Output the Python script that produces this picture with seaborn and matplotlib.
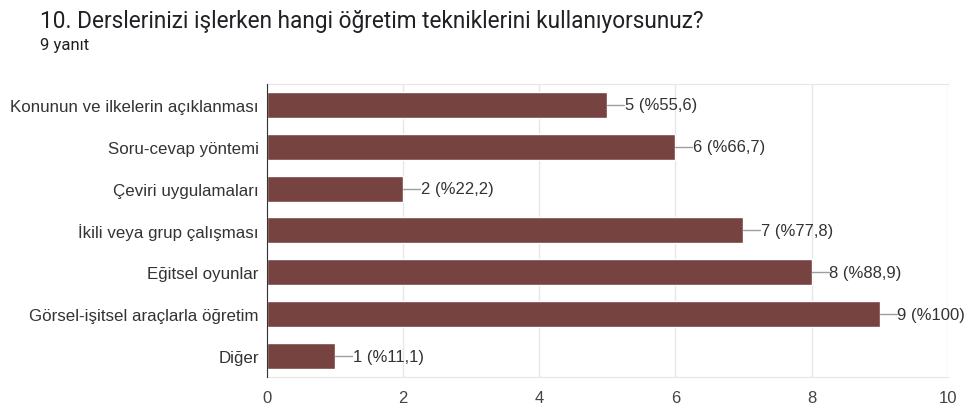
import numpy as np
import pandas as pd
import seaborn as sns
import matplotlib.pyplot as plt

categories = ['Konunun ve ilkelerin açıklanması', 'Soru-cevap yöntemi', 'Çeviri uygulamaları',
              'İkili veya grup çalışması', 'Eğitsel oyunlar', 'Görsel-işitsel araçlarla öğretim', 'Diğer']
counts = [5, 6, 2, 7, 8, 9, 1]
percent_labels = ['%55,6', '%66,7', '%22,2', '%77,8', '%88,9', '%100', '%11,1']
x_ticks = [0, 2, 4, 6, 8, 10]

df = pd.DataFrame({'category': categories, 'count': counts})

sns.set_style('white')
plt.rcParams['font.family'] = ['Liberation Sans', 'DejaVu Sans']

fig = plt.figure(figsize=(9.69, 4.10), dpi=100)
ax = fig.add_axes([0.2755, 0.078, 0.7025, 0.715])

sns.barplot(x='count', y='category', data=df, color='#774340', width=0.62,
            saturation=1, ax=ax, zorder=3)

for i, (v, p) in enumerate(zip(counts, percent_labels)):
    ax.plot([v, v + 0.25], [i, i], color='#9e9e9e', lw=1, zorder=4)
    ax.text(v + 0.26, i, f'{v} ({p})', va='center', ha='left', fontsize=12, color='#333333')

ax.set_xlim(0, 10)
ax.set_ylim(6.5, -0.5)
ax.set_xticks(x_ticks)
ax.set_xticklabels([str(t) for t in x_ticks])
ax.grid(axis='x', color='#e6e6e6', lw=1, zorder=0)
ax.set_xlabel('')
ax.set_ylabel('')
ax.tick_params(axis='x', length=0, pad=9, labelsize=12, labelcolor='#444444')
ax.tick_params(axis='y', length=0, pad=6, labelsize=12.2, labelcolor='#333333')

for s in ['top', 'bottom']:
    ax.spines[s].set_color('#e6e6e6')
ax.spines['right'].set_visible(False)
ax.spines['left'].set_color('#333333')
ax.spines['left'].set_zorder(5)

fig.text(0.041, 0.947, '10. Derslerinizi işlerken hangi öğretim tekniklerini kullanıyorsunuz?',
         fontsize=16.3, color='#202124', va='center', family=['Roboto', 'DejaVu Sans'])
fig.text(0.041, 0.888, '9 yanıt', fontsize=12, color='#202124', va='center',
         family=['Roboto', 'DejaVu Sans'])

fig.savefig('out.png', dpi=100)
